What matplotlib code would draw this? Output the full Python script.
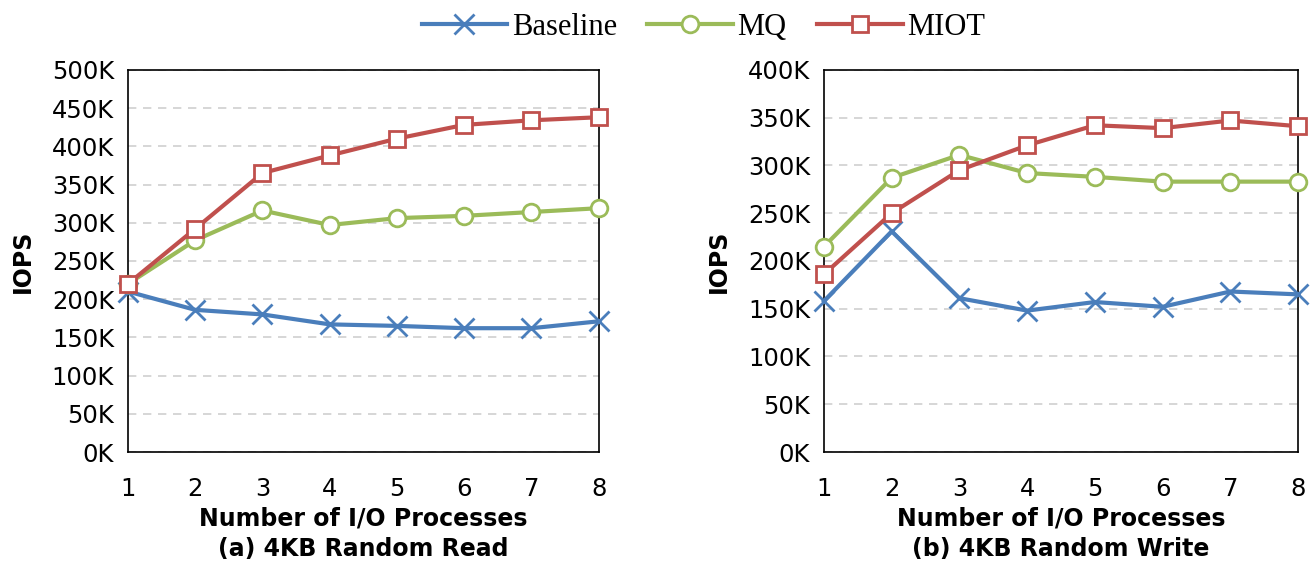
import numpy as np
import matplotlib
matplotlib.use("Agg")
import matplotlib.pyplot as plt
from matplotlib.ticker import FuncFormatter

# Dados (IOPS em milhares)
procs = [1, 2, 3, 4, 5, 6, 7, 8]

read_baseline = [210, 186, 180, 167, 165, 162, 162, 171]
read_mq = [220, 277, 316, 297, 306, 309, 314, 319]
read_miot = [220, 292, 365, 388, 410, 428, 434, 438]

write_baseline = [158, 231, 161, 148, 157, 152, 168, 165]
write_mq = [215, 287, 311, 292, 288, 283, 283, 283]
write_miot = [186, 250, 295, 321, 342, 339, 347, 341]

titulos = ["(a) 4KB Random Read", "(b) 4KB Random Write"]
limites_y = [500, 400]

# Estilos das series
AZUL = "#4a7ebb"
VERDE = "#9bbb59"
VERMELHO = "#c0504d"
estilos = {
    "Baseline": dict(color=AZUL, marker="x", markersize=14, markeredgewidth=2),
    "MQ": dict(color=VERDE, marker="o", markersize=12, markerfacecolor="white", markeredgewidth=2),
    "MIOT": dict(color=VERMELHO, marker="s", markersize=12, markerfacecolor="white", markeredgewidth=2),
}

fig = plt.figure(figsize=(13.15, 5.67), dpi=100)
ax1 = fig.add_axes([0.0973, 0.2028, 0.358, 0.674])
ax2 = fig.add_axes([0.6266, 0.2028, 0.3605, 0.674])

dados = [
    (ax1, read_baseline, read_mq, read_miot),
    (ax2, write_baseline, write_mq, write_miot),
]

linhas = []
for i, (ax, base, mq, miot) in enumerate(dados):
    for nome, serie in [("Baseline", base), ("MQ", mq), ("MIOT", miot)]:
        l, = ax.plot(procs, serie, linewidth=3, label=nome, clip_on=False,
                     zorder=3, **estilos[nome])
        if i == 0:
            linhas.append(l)
    ax.set_xlim(1, 8)
    ax.set_ylim(0, limites_y[i])
    ax.set_yticks(np.arange(0, limites_y[i] + 1, 50))
    ax.yaxis.set_major_formatter(FuncFormatter(lambda v, p: f"{int(v)}K"))
    ax.set_xticks(procs)
    ax.tick_params(length=0, labelsize=17.5)
    ax.tick_params(axis="x", pad=18)
    ax.tick_params(axis="y", pad=10)
    ax.grid(axis="y", color="#d0d0d0", linestyle=(0, (5, 4)), linewidth=1.2)
    ax.set_axisbelow(True)
    for s in ax.spines.values():
        s.set_linewidth(1.2)
        s.set_color("black")
    ax.set_ylabel("IOPS", fontsize=17, fontweight="bold", labelpad=12)
    ax.set_xlabel("Number of I/O Processes\n" + titulos[i], fontsize=17,
                  fontweight="bold", labelpad=4, linespacing=1.35)

fig.legend(handles=linhas, loc="upper center", bbox_to_anchor=(0.535, 1.01), ncol=3,
           frameon=False, prop={"family": "Liberation Serif", "size": 22},
           handlelength=2.8, columnspacing=1.0, handletextpad=0.15, borderaxespad=0.2)

fig.savefig("out.png", dpi=100)
